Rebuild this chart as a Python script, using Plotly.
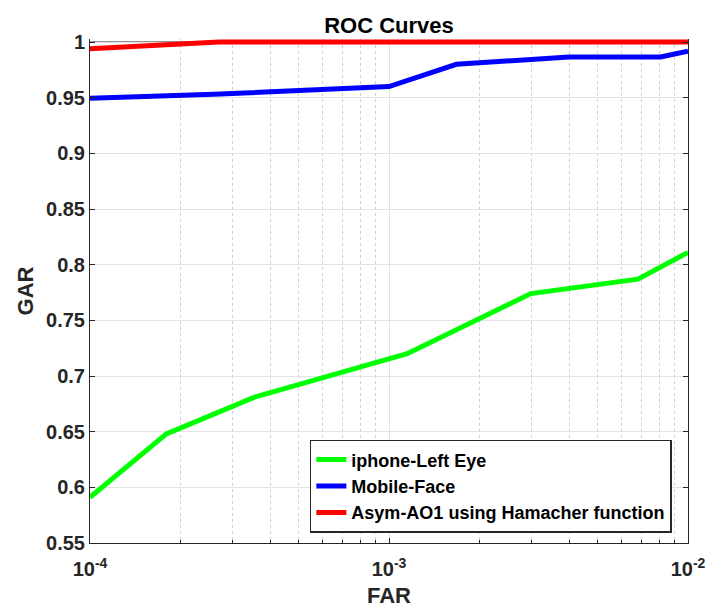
import plotly.graph_objects as go

green_far = [1e-4, 1.8e-4, 3.55e-4, 1.15e-3, 2.98e-3, 6.8e-3, 1e-2]
green_gar = [0.591, 0.648, 0.681, 0.720, 0.774, 0.787, 0.811]

blue_far = [1e-4, 2.6e-4, 1e-3, 1.68e-3, 4.0e-3, 8.1e-3, 1e-2]
blue_gar = [0.9494, 0.953, 0.960, 0.980, 0.9866, 0.9866, 0.9917]

red_far = [1e-4, 2.7e-4, 1e-3, 1e-2]
red_gar = [0.994, 1.0, 1.0, 1.0]

names = ["iphone-Left Eye", "Mobile-Face", "Asym-AO1 using Hamacher function"]
colors = ["#00ff00", "#0000ff", "#ff0000"]

ytick_vals = [0.55, 0.6, 0.65, 0.7, 0.75, 0.8, 0.85, 0.9, 0.95, 1.0]
ytick_text = ["0.55", "0.6", "0.65", "0.7", "0.75", "0.8", "0.85", "0.9", "0.95", "1"]

xtick_vals = [1e-4, 1e-3, 1e-2]
xtick_text = ["10<sup>-4</sup>", "10<sup>-3</sup>", "10<sup>-2</sup>"]
xminor_vals = [m * d for d in (1e-4, 1e-3) for m in range(2, 10)]

FONT = "Liberation Sans"
TXT = "#262626"
Y_TOP_PAD = 0.0027  # small headroom so the thick line at GAR=1 is not clipped

fig = go.Figure()
for fx, gy, nm, c in zip([green_far, blue_far, red_far], [green_gar, blue_gar, red_gar], names, colors):
    fig.add_trace(go.Scatter(x=fx, y=gy, mode="lines", name=nm,
                             line=dict(color=c, width=5)))

tickfont = dict(family=FONT, size=20, color=TXT, weight="bold")

fig.update_xaxes(type="log", range=[-4, -2], tickvals=xtick_vals, ticktext=xtick_text,
                 showline=True, linecolor=TXT, linewidth=1, mirror=False,
                 ticks="inside", ticklen=5, tickcolor=TXT,
                 showgrid=True, gridcolor="#e3e3e3", zeroline=False,
                 tickfont=tickfont, automargin=False, ticklabelstandoff=8,
                 title=dict(text="<b>FAR</b>", font=dict(family=FONT, size=22, color=TXT), standoff=10),
                 minor=dict(tickvals=xminor_vals, showgrid=True, gridcolor="#cfcfcf", griddash="dot",
                            ticks="inside", ticklen=3, tickcolor=TXT))
fig.update_yaxes(range=[0.55, 1.0 + Y_TOP_PAD], tickvals=ytick_vals, ticktext=ytick_text,
                 showline=True, linecolor=TXT, linewidth=1, mirror="ticks",
                 ticks="inside", ticklen=5, tickcolor=TXT,
                 showgrid=True, gridcolor="#e3e3e3", zeroline=False,
                 tickfont=tickfont, automargin=False,
                 title=dict(text="<b>GAR</b>", font=dict(family=FONT, size=22, color=TXT), standoff=6))

# top frame line at GAR = 1
fig.add_shape(type="line", xref="paper", x0=0, x1=1, yref="y", y0=1.0, y1=1.0,
              line=dict(color=TXT, width=1), layer="below")

fig.update_layout(
    width=706, height=608,
    margin=dict(l=90, r=18, t=39, b=65, autoexpand=False),
    paper_bgcolor="white", plot_bgcolor="white",
    title=dict(text="<b>ROC Curves</b>", x=0.551, xanchor="center", y=0.9589, yanchor="middle",
               font=dict(family=FONT, size=22, color="black"), automargin=False),
    legend=dict(x=0.973, y=0.020, xanchor="right", yanchor="bottom",
                bgcolor="white", bordercolor=TXT, borderwidth=1.5,
                font=dict(family=FONT, size=18, color="black", weight="bold"),
                tracegroupgap=0, itemwidth=30),
    showlegend=True,
)

fig.write_html("out.html", config={"displayModeBar": False},
               post_script="document.body.style.margin='0';document.documentElement.style.overflow='hidden';")
